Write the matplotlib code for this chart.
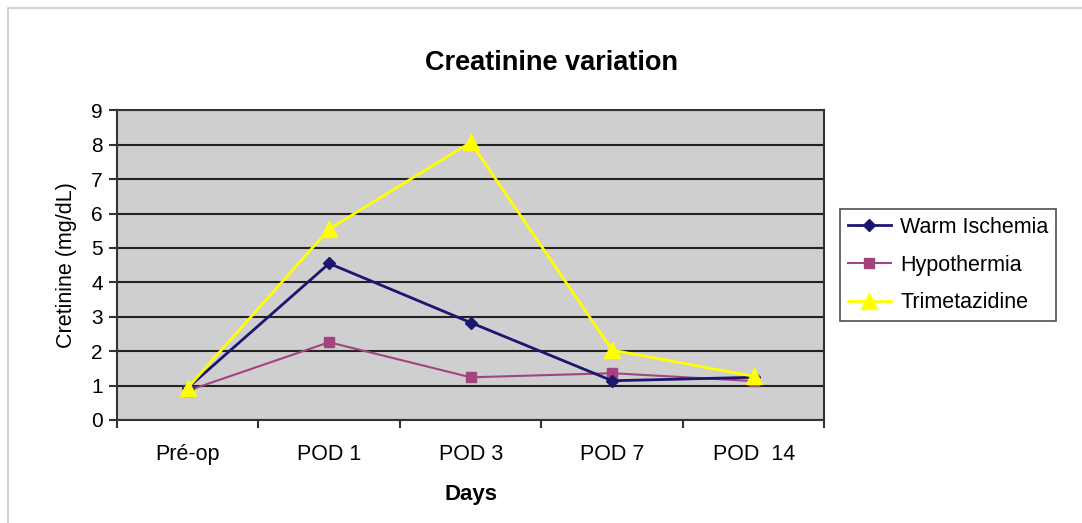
import matplotlib
matplotlib.use("Agg")
import matplotlib.pyplot as plt
from matplotlib.patches import Rectangle

plt.rcParams['font.family'] = ['Liberation Sans', 'DejaVu Sans']

days = ["Pré-op", "POD 1", "POD 3", "POD 7", "POD  14"]
warm_ischemia = [0.93, 4.55, 2.83, 1.14, 1.24]
hypothermia = [0.85, 2.26, 1.24, 1.36, 1.13]
trimetazidine = [0.93, 5.55, 8.07, 2.03, 1.27]

fig = plt.figure(figsize=(10.82, 5.23), dpi=100)
ax = fig.add_axes([0.108, 0.197, 0.654, 0.592])

# light frame around the chart
fig.patches.append(Rectangle((0.0075, -0.1), 1.2, 1.085, transform=fig.transFigure,
                             fill=False, edgecolor='#c8c8c8', linewidth=1.2))

ax.set_facecolor('#cfcfcf')
x = range(len(days))
ax.plot(x, warm_ischemia, color='#1c1670', linewidth=2, marker='D',
        markersize=6, label='Warm Ischemia', zorder=4)
ax.plot(x, hypothermia, color='#a2457f', linewidth=1.5, marker='s',
        markersize=7, label='Hypothermia', zorder=3)
ax.plot(x, trimetazidine, color='#ffff00', linewidth=2, marker='^',
        markersize=11, label='Trimetazidine', zorder=5)

ax.set_xlim(-0.5, len(days) - 0.5)
ax.set_ylim(0, 9)
ax.set_yticks(range(10))
ax.set_xticks([i - 0.5 for i in range(len(days) + 1)], minor=False)
ax.set_xticklabels([])
ax.set_xticks(list(x), minor=True)
ax.set_xticklabels(days, minor=True, fontsize=15.5)
ax.tick_params(axis='x', which='minor', length=0, pad=17)
ax.tick_params(axis='x', which='major', length=6, width=1.5, color='#333333', direction='out')
ax.tick_params(axis='y', length=6, width=1.5, color='#333333', labelsize=15, pad=4)

ax.grid(axis='y', color='#222222', linewidth=1.5)
ax.set_axisbelow(True)
for s in ax.spines.values():
    s.set_color('#333333')
    s.set_linewidth(1.5)

fig.text(0.51, 0.88, 'Creatinine variation', fontsize=19.5, fontweight='bold',
         ha='center', va='center')
ax.set_xlabel('Days', fontsize=16, fontweight='bold', labelpad=14)
ax.set_ylabel('Cretinine (mg/dL)', fontsize=15.5, labelpad=10)

leg = ax.legend(loc='center left', bbox_to_anchor=(1.022, 0.5), fontsize=15.5,
                frameon=True, fancybox=False, edgecolor='#222222',
                borderpad=0.35, labelspacing=0.78, handlelength=2.0,
                handletextpad=0.45, borderaxespad=0)
leg.get_frame().set_linewidth(1.2)

fig.savefig('out.png', dpi=100, facecolor='white')
